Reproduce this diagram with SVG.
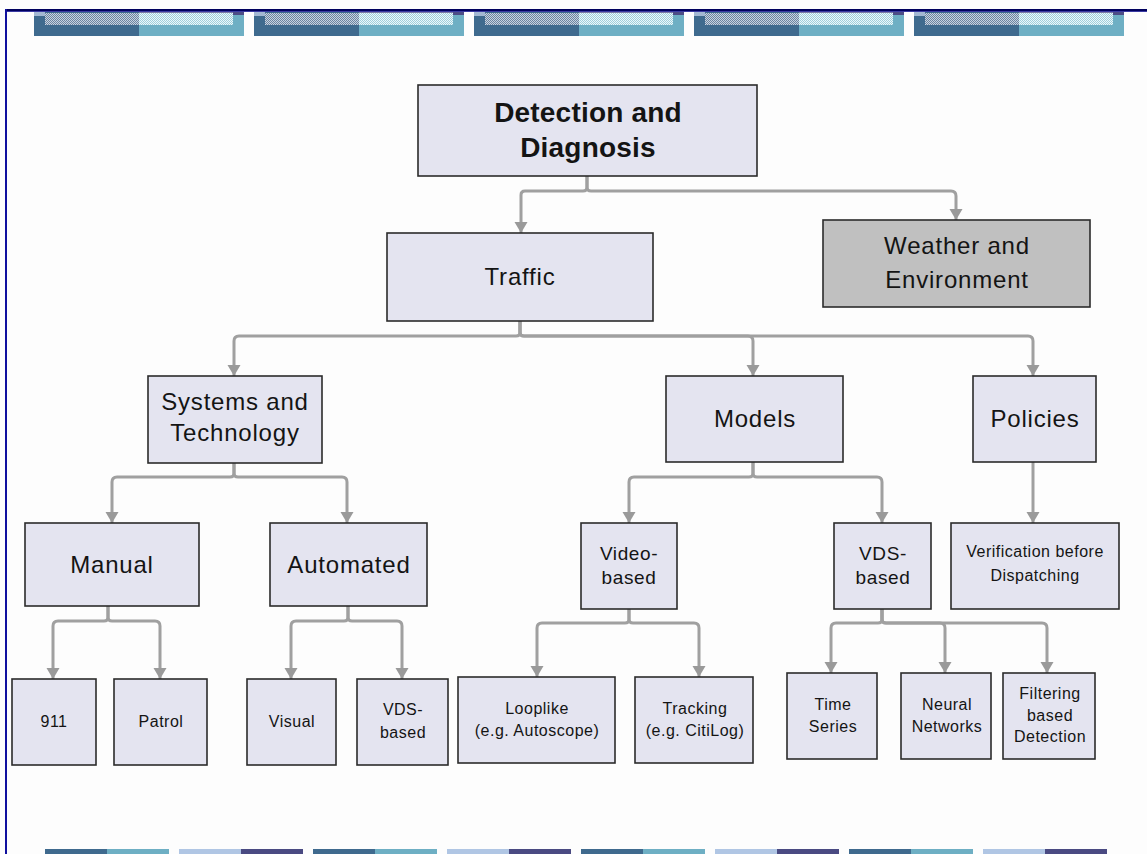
<svg xmlns="http://www.w3.org/2000/svg" width="1147" height="854" viewBox="0 0 1147 854">
  <defs>
    <style>
      .box { fill: #e4e4f0; stroke: #2b2b2b; stroke-width: 1.6; }
      .box.gray { fill: #c0c0c0; }
      .lbl { font-family: "Liberation Sans", Arial, sans-serif; text-anchor: middle; fill: #141414; }
      .t28 { font-size: 28px; font-weight: bold; letter-spacing: 0.2px; }
      .t24 { font-size: 24px; letter-spacing: 0.8px; }
      .t19 { font-size: 19px; letter-spacing: 0.6px; }
      .t16 { font-size: 16px; letter-spacing: 0.5px; }
      .link { fill: none; stroke: #a0a0a0; stroke-width: 3; marker-end: url(#arrow); }
      .plain { fill: none; stroke: #a0a0a0; stroke-width: 3; }
    </style>
    <marker id="arrow" markerUnits="userSpaceOnUse" markerWidth="12" markerHeight="14" refX="11" refY="6.5" orient="auto">
      <path d="M0,0 L11,6.5 L0,13 Z" fill="#9a9a9a"/>
    </marker>
    <pattern id="ditherDark" patternUnits="userSpaceOnUse" width="2" height="2">
      <rect width="2" height="2" fill="#c9d2de"/>
      <rect width="1" height="1" fill="#6a84a2"/>
      <rect x="1" y="1" width="1" height="1" fill="#6a84a2"/>
    </pattern>
    <pattern id="ditherLight" patternUnits="userSpaceOnUse" width="2" height="2">
      <rect width="2" height="2" fill="#eef7fa"/>
      <rect width="1" height="1" fill="#9dcfdc"/>
      <rect x="1" y="1" width="1" height="1" fill="#9dcfdc"/>
    </pattern>
    <!-- header tile: two-tone bar with dithered highlight strip -->
    <g id="topTile">
      <rect x="0" y="12" width="210" height="24" fill="#6eafc4"/>
      <rect x="0" y="12" width="105" height="24" fill="#3f6a8e"/>
      <rect x="0" y="12" width="11" height="4" fill="#a3b8d2"/>
      <rect x="11" y="13" width="94" height="12" fill="url(#ditherDark)"/>
      <rect x="105" y="13" width="94" height="12" fill="url(#ditherLight)"/>
      <rect x="105" y="12" width="94" height="1" fill="#7b7aa6"/>
      <rect x="199" y="12" width="11" height="3" fill="#4d4d86"/>
    </g>
    <!-- footer tiles -->
    <g id="footTeal">
      <rect x="0" y="849" width="62" height="5" fill="#3f6a8e"/>
      <rect x="62" y="849" width="62" height="5" fill="#6eafc4"/>
    </g>
    <g id="footLav">
      <rect x="0" y="849" width="62" height="5" fill="#b0c6e4"/>
      <rect x="62" y="849" width="62" height="5" fill="#4a4a82"/>
    </g>
  </defs>

  <rect width="1147" height="854" fill="#fdfdfd"/>

  <!-- page frame -->
  <g id="frame">
    <rect x="5" y="9" width="1142" height="2" fill="#00005e"/>
    <rect x="5" y="11" width="1142" height="1" fill="#3a3aa2"/>
    <rect x="5" y="9" width="2" height="845" fill="#10109e"/>
  </g>

  <g id="header-band">
    <use href="#topTile" x="34"/>
    <use href="#topTile" x="254"/>
    <use href="#topTile" x="474"/>
    <use href="#topTile" x="694"/>
    <use href="#topTile" x="914"/>
  </g>

  <g id="footer-band">
    <use href="#footTeal" x="45"/>
    <use href="#footLav" x="179"/>
    <use href="#footTeal" x="313"/>
    <use href="#footLav" x="447"/>
    <use href="#footTeal" x="581"/>
    <use href="#footLav" x="715"/>
    <use href="#footTeal" x="849"/>
    <use href="#footLav" x="983"/>
  </g>

  <!-- tree connectors: brace split under each parent, rounded elbows, arrow into child -->
  <g id="connectors">
    <path class="link" d="M587,176 V187 Q587,191 583,191 H525 Q521,191 521,195 V233"/>
    <path class="link" d="M587,176 V187 Q587,191 591,191 H951 Q956,191 956,196 V220"/>

    <path class="link" d="M520,321 V332 Q520,336 516,336 H239 Q234,336 234,341 V376"/>
    <path class="link" d="M520,321 V332 Q520,336 524,336 H748 Q753,336 753,341 V376"/>
    <path class="link" d="M520,321 V332 Q520,336 524,336 H1028 Q1033,336 1033,341 V376"/>

    <path class="link" d="M234,463 V473 Q234,477 230,477 H117 Q112,477 112,482 V523"/>
    <path class="link" d="M234,463 V473 Q234,477 238,477 H342 Q347,477 347,482 V523"/>

    <path class="link" d="M753,462 V473 Q753,477 749,477 H634 Q629,477 629,482 V523"/>
    <path class="link" d="M753,462 V473 Q753,477 757,477 H877 Q882,477 882,482 V523"/>

    <path class="link" d="M1033,462 V523"/>

    <path class="link" d="M108,606 V617 Q108,621 104,621 H58 Q53,621 53,626 V679"/>
    <path class="link" d="M108,606 V617 Q108,621 112,621 H155 Q160,621 160,626 V679"/>

    <path class="link" d="M348,606 V617 Q348,621 344,621 H296 Q291,621 291,626 V679"/>
    <path class="link" d="M348,606 V617 Q348,621 352,621 H397 Q402,621 402,626 V679"/>

    <path class="link" d="M629,609 V619 Q629,623 625,623 H542 Q537,623 537,628 V677"/>
    <path class="link" d="M629,609 V619 Q629,623 633,623 H694 Q699,623 699,628 V677"/>

    <path class="link" d="M882,609 V619 Q882,623 878,623 H836 Q831,623 831,628 V673"/>
    <path class="link" d="M882,609 V619 Q882,623 886,623 H940 Q945,623 945,628 V673"/>
    <path class="link" d="M882,609 V619 Q882,623 886,623 H1042 Q1047,623 1047,628 V673"/>
  </g>

  <g id="node-detection">
    <rect class="box" x="418" y="85" width="339" height="91"/>
    <text class="lbl t28" x="588" y="122">Detection and</text>
    <text class="lbl t28" x="588" y="157">Diagnosis</text>
  </g>

  <g id="node-traffic">
    <rect class="box" x="387" y="233" width="266" height="88"/>
    <text class="lbl t24" x="520" y="285">Traffic</text>
  </g>

  <g id="node-weather">
    <rect class="box gray" x="823" y="220" width="267" height="87"/>
    <text class="lbl t24" x="957" y="254">Weather and</text>
    <text class="lbl t24" x="957" y="288">Environment</text>
  </g>

  <g id="node-systems">
    <rect class="box" x="148" y="376" width="174" height="87"/>
    <text class="lbl t24" x="235" y="410">Systems and</text>
    <text class="lbl t24" x="235" y="441">Technology</text>
  </g>

  <g id="node-models">
    <rect class="box" x="666" y="376" width="177" height="86"/>
    <text class="lbl t24" x="755" y="427">Models</text>
  </g>

  <g id="node-policies">
    <rect class="box" x="973" y="376" width="123" height="86"/>
    <text class="lbl t24" x="1035" y="427">Policies</text>
  </g>

  <g id="node-manual">
    <rect class="box" x="25" y="523" width="174" height="83"/>
    <text class="lbl t24" x="112" y="573">Manual</text>
  </g>

  <g id="node-automated">
    <rect class="box" x="270" y="523" width="157" height="83"/>
    <text class="lbl t24" x="349" y="573">Automated</text>
  </g>

  <g id="node-video">
    <rect class="box" x="581" y="523" width="96" height="86"/>
    <text class="lbl t19" x="629" y="560">Video-</text>
    <text class="lbl t19" x="629" y="584">based</text>
  </g>

  <g id="node-vds-model">
    <rect class="box" x="834" y="523" width="97" height="86"/>
    <text class="lbl t19" x="883" y="560">VDS-</text>
    <text class="lbl t19" x="883" y="584">based</text>
  </g>

  <g id="node-verification">
    <rect class="box" x="951" y="523" width="168" height="86"/>
    <text class="lbl t16" x="1035" y="557">Verification before</text>
    <text class="lbl t16" x="1035" y="581">Dispatching</text>
  </g>

  <g id="node-911">
    <rect class="box" x="12" y="679" width="84" height="86"/>
    <text class="lbl t16" x="54" y="727">911</text>
  </g>

  <g id="node-patrol">
    <rect class="box" x="114" y="679" width="93" height="86"/>
    <text class="lbl t16" x="161" y="727">Patrol</text>
  </g>

  <g id="node-visual">
    <rect class="box" x="247" y="679" width="89" height="86"/>
    <text class="lbl t16" x="292" y="727">Visual</text>
  </g>

  <g id="node-vds-auto">
    <rect class="box" x="357" y="679" width="91" height="86"/>
    <text class="lbl t16" x="403" y="715">VDS-</text>
    <text class="lbl t16" x="403" y="738">based</text>
  </g>

  <g id="node-looplike">
    <rect class="box" x="458" y="677" width="157" height="86"/>
    <text class="lbl t16" x="537" y="714">Looplike</text>
    <text class="lbl t16" x="537" y="736">(e.g. Autoscope)</text>
  </g>

  <g id="node-tracking">
    <rect class="box" x="635" y="677" width="118" height="86"/>
    <text class="lbl t16" x="695" y="714">Tracking</text>
    <text class="lbl t16" x="695" y="736">(e.g. CitiLog)</text>
  </g>

  <g id="node-timeseries">
    <rect class="box" x="787" y="673" width="90" height="86"/>
    <text class="lbl t16" x="833" y="710">Time</text>
    <text class="lbl t16" x="833" y="732">Series</text>
  </g>

  <g id="node-neural">
    <rect class="box" x="901" y="673" width="90" height="86"/>
    <text class="lbl t16" x="947" y="710">Neural</text>
    <text class="lbl t16" x="947" y="732">Networks</text>
  </g>

  <g id="node-filtering">
    <rect class="box" x="1003" y="673" width="92" height="86"/>
    <text class="lbl t16" x="1050" y="699">Filtering</text>
    <text class="lbl t16" x="1050" y="721">based</text>
    <text class="lbl t16" x="1050" y="742">Detection</text>
  </g>
</svg>
